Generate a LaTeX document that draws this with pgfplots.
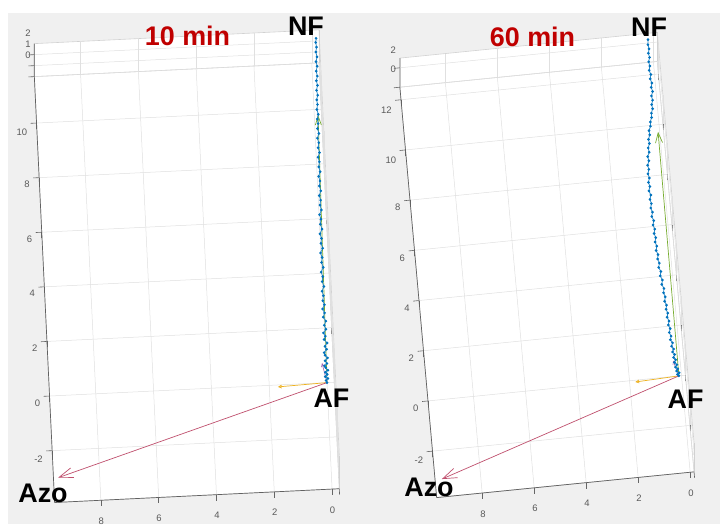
\documentclass[border=0pt]{standalone}
\usepackage{fontspec}
\setmainfont{Liberation Sans}
\usepackage{pgfplots}
\pgfplotsset{compat=1.18}
\usetikzlibrary{arrows.meta}
\definecolor{bgray}{HTML}{F0F0F0}
\definecolor{mblue}{HTML}{0072BD}
\definecolor{morange}{HTML}{EDB120}
\definecolor{mgreen}{HTML}{77AC30}
\definecolor{mred}{HTML}{C0506E}
\definecolor{mpurple}{HTML}{9E5FAE}
\definecolor{ttl}{HTML}{C00000}

\pgfplotstableread{
x y z
0.00 0.00 0
0.03 0.08 0
-0.04 0.15 0
0.05 0.22 0
-0.02 0.30 0
0.04 0.38 0
-0.05 0.45 0
0.02 0.55 0
0.06 0.62 0
-0.03 0.70 0
0.03 0.80 0
-0.06 0.90 0
0.02 1.00 0
0.05 1.10 0
-0.04 1.22 0
0.01 1.33 0
-0.07 1.45 0
0.03 1.58 0
-0.02 1.70 0
0.04 1.82 0
-0.05 1.95 0
0.00 2.10 0
-0.06 2.25 0
0.02 2.40 0
-0.03 2.55 0
0.03 2.70 0
-0.04 2.85 0
0.01 3.00 0
-0.02 3.18 0
0.02 3.35 0
-0.05 3.52 0
0.00 3.70 0
-0.03 3.88 0
0.02 4.05 0
-0.06 4.22 0
-0.01 4.40 0
-0.04 4.58 0
0.01 4.75 0
-0.07 4.92 0
-0.02 5.10 0
-0.05 5.28 0
0.00 5.45 0
-0.08 5.62 0
-0.03 5.80 0
-0.06 5.98 0
-0.02 6.15 0
-0.09 6.32 0
-0.05 6.50 0
-0.08 6.68 0
-0.04 6.85 0
-0.10 7.02 0
-0.06 7.20 0
-0.09 7.38 0
-0.05 7.55 0
-0.11 7.72 0
-0.07 7.90 0
-0.10 8.08 0
-0.06 8.25 0
-0.12 8.42 0
-0.08 8.60 0
-0.11 8.78 0
-0.07 8.95 0
-0.13 9.12 0
-0.09 9.30 0
-0.12 9.48 0
-0.10 9.65 0
-0.14 9.82 0
-0.10 10.00 0
-0.13 10.18 0
-0.11 10.35 0
-0.15 10.52 0
-0.12 10.70 0
-0.16 10.88 0
-0.13 11.05 0
-0.17 11.22 0
-0.14 11.40 0
-0.18 11.58 0
-0.15 11.75 0
-0.19 11.92 0
-0.16 12.10 0
-0.19 12.28 0
-0.17 12.45 0
-0.19 12.60 0
}\trackA

\pgfplotstableread{
x y z
0.10 0.00 0
0.15 0.06 0
0.08 0.12 0
0.17 0.20 0
0.12 0.28 0
0.20 0.36 0
0.14 0.45 0
0.22 0.55 0
0.17 0.65 0
0.24 0.75 0
0.19 0.86 0
0.26 0.97 0
0.21 1.08 0
0.28 1.20 0
0.23 1.33 0
0.30 1.46 0
0.26 1.60 0
0.32 1.75 0
0.27 1.90 0
0.33 2.05 0
0.29 2.20 0
0.35 2.36 0
0.31 2.52 0
0.36 2.68 0
0.33 2.84 0
0.39 3.00 0
0.35 3.17 0
0.40 3.34 0
0.37 3.51 0
0.44 3.68 0
0.40 3.85 0
0.47 4.02 0
0.43 4.19 0
0.50 4.36 0
0.46 4.53 0
0.51 4.70 0
0.48 4.87 0
0.54 5.04 0
0.50 5.21 0
0.55 5.38 0
0.51 5.55 0
0.56 5.72 0
0.52 5.89 0
0.57 6.06 0
0.53 6.23 0
0.59 6.40 0
0.55 6.57 0
0.60 6.74 0
0.56 6.91 0
0.60 7.08 0
0.55 7.25 0
0.61 7.42 0
0.56 7.59 0
0.60 7.76 0
0.55 7.93 0
0.59 8.10 0
0.54 8.27 0
0.57 8.44 0
0.51 8.61 0
0.54 8.78 0
0.47 8.95 0
0.49 9.12 0
0.43 9.29 0
0.45 9.46 0
0.39 9.63 0
0.40 9.80 0
0.33 9.97 0
0.32 10.14 0
0.26 10.31 0
0.25 10.48 0
0.19 10.65 0
0.21 10.82 0
0.16 10.99 0
0.19 11.16 0
0.13 11.33 0
0.17 11.50 0
0.13 11.67 0
0.18 11.84 0
0.14 12.01 0
0.19 12.18 0
0.15 12.35 0
0.18 12.52 0
0.13 12.69 0
0.16 12.86 0
0.12 13.03 0
0.15 13.20 0
0.13 13.40 0
}\trackB

\tikzset{boxedge/.style={black!62, line width=0.7bp}, xtk/.style={black!60, line width=0.6bp}}
\pgfplotsset{
 geomA/.style={at={(327bp,141.4bp)}, anchor=origin, x dir=reverse,
  x={(28.9bp,1.4bp)}, y={(-1.3bp,27.3bp)}, z={(0bp,11bp)},
  xmin=-0.25, xmax=9.6, ymin=-3.9, ymax=11.7, zmin=0, zmax=3, clip=false},
 geomB/.style={at={(681.5bp,148.4bp)}, anchor=origin, x dir=reverse,
  x={(26bp,2.6bp)}, y={(-2.25bp,25.1bp)}, z={(0bp,9.7bp)},
  xmin=-0.15, xmax=9.75, ymin=-3.85, ymax=12.5, zmin=0, zmax=3, clip=false},
 panel/.style={
  grid=major,
  major grid style={black!12, line width=0.5bp},
  axis line style={black!18, line width=0.6bp},
  tick style={black!60, line width=0.6bp},
  xtick style={draw=none},
  tick align=outside,
  tick pos=left,
  major tick length=6bp,
  ticklabel style={font=\fontsize{9.5}{10}\selectfont, text=black!65},
  xticklabel style={yshift=-8bp},
  /pgf/number format/assume math mode=true,
  xtick={0,2,4,6,8},
 },
 wf/.style={fill=white, draw=none, forget plot},
 bluetrack/.style={color=mblue!80, line width=0.8bp, mark=*, mark size=0.9bp, mark options={color=mblue}},
}

\begin{document}
\begin{tikzpicture}
\fill[white] (0,0) rectangle (720bp,524bp);
\fill[bgray] (8bp,0) rectangle (720bp,511bp);

% ---------------- Panel 1 white box ----------------
\begin{axis}[geomA, hide axis]
\addplot3[wf] coordinates {(9.6,-3.9,0) (-0.25,-3.9,0) (-0.25,11.7,0) (9.6,11.7,0)} -- cycle;
\addplot3[wf] coordinates {(9.6,-3.9,3) (-0.25,-3.9,3) (-0.25,11.7,3) (9.6,11.7,3)} -- cycle;
\addplot3[wf] coordinates {(9.6,-3.9,0) (9.6,11.7,0) (9.6,11.7,3) (9.6,-3.9,3)} -- cycle;
\addplot3[wf] coordinates {(-0.25,-3.9,0) (-0.25,11.7,0) (-0.25,11.7,3) (-0.25,-3.9,3)} -- cycle;
\addplot3[wf] coordinates {(9.6,-3.9,0) (-0.25,-3.9,0) (-0.25,-3.9,3) (9.6,-3.9,3)} -- cycle;
\addplot3[wf] coordinates {(9.6,11.7,0) (-0.25,11.7,0) (-0.25,11.7,3) (9.6,11.7,3)} -- cycle;
\end{axis}
% ---------------- Panel 1: 10 min ----------------
\begin{axis}[geomA, panel,
  ytick={-2,0,2,4,6,8,10}, ztick={0,1,2},
  zticklabel style={yshift=10bp}]
\draw[boxedge] (axis cs:9.6,11.7,3) -- (axis cs:9.6,11.7,0) -- (axis cs:9.6,-3.9,0) -- (axis cs:-0.25,-3.9,0);
\draw[xtk] (axis cs:0,-3.9,0) -- ++(0bp,-6bp) (axis cs:2,-3.9,0) -- ++(0bp,-6bp) (axis cs:4,-3.9,0) -- ++(0bp,-6bp) (axis cs:6,-3.9,0) -- ++(0bp,-6bp) (axis cs:8,-3.9,0) -- ++(0bp,-6bp);
\addplot3[mgreen, line width=0.7bp, -{Straight Barb[length=9bp,width=6bp]}] coordinates {(0,0,0) (-0.13,9.8,0)};
\addplot3[mpurple, line width=0.6bp, -{Straight Barb[length=3bp,width=3bp]}] coordinates {(0,0,0) (0.14,0.72,0)};
\addplot3[bluetrack] table[x=x,y=y,z=z] {\trackA};
\addplot3[morange, line width=0.7bp, -{Straight Barb[length=3bp,width=3bp]}] coordinates {(0,0,0) (1.70,-0.07,0)};
\addplot3[mred, line width=0.7bp, -{Straight Barb[length=14bp,width=10bp]}] coordinates {(0,0,0) (9.44,-3.0,0)};
\end{axis}

% ---------------- Panel 2 white box ----------------
\begin{axis}[geomB, hide axis]
\addplot3[wf] coordinates {(9.75,-3.85,0) (-0.15,-3.85,0) (-0.15,12.5,0) (9.75,12.5,0)} -- cycle;
\addplot3[wf] coordinates {(9.75,-3.85,3) (-0.15,-3.85,3) (-0.15,12.5,3) (9.75,12.5,3)} -- cycle;
\addplot3[wf] coordinates {(9.75,-3.85,0) (9.75,12.5,0) (9.75,12.5,3) (9.75,-3.85,3)} -- cycle;
\addplot3[wf] coordinates {(-0.15,-3.85,0) (-0.15,12.5,0) (-0.15,12.5,3) (-0.15,-3.85,3)} -- cycle;
\addplot3[wf] coordinates {(9.75,-3.85,0) (-0.15,-3.85,0) (-0.15,-3.85,3) (9.75,-3.85,3)} -- cycle;
\addplot3[wf] coordinates {(9.75,12.5,0) (-0.15,12.5,0) (-0.15,12.5,3) (9.75,12.5,3)} -- cycle;
\end{axis}
% ---------------- Panel 2: 60 min ----------------
\begin{axis}[geomB, panel,
  ytick={-2,0,2,4,6,8,10,12}, ztick={0,2},
  zticklabel style={yshift=7bp}]
\draw[boxedge] (axis cs:9.75,12.5,3) -- (axis cs:9.75,12.5,0) -- (axis cs:9.75,-3.85,0) -- (axis cs:-0.15,-3.85,0);
\draw[xtk] (axis cs:0,-3.85,0) -- ++(0bp,-6bp) (axis cs:2,-3.85,0) -- ++(0bp,-6bp) (axis cs:4,-3.85,0) -- ++(0bp,-6bp) (axis cs:6,-3.85,0) -- ++(0bp,-6bp) (axis cs:8,-3.85,0) -- ++(0bp,-6bp);
\addplot3[mgreen, line width=0.7bp, -{Straight Barb[length=10bp,width=7bp]}] coordinates {(0.1,0,0) (0.06,9.72,0)};
\addplot3[mpurple, line width=0.6bp, -{Straight Barb[length=3bp,width=3bp]}] coordinates {(0.1,0,0) (0.27,0.62,0)};
\addplot3[bluetrack] table[x=x,y=y,z=z] {\trackB};
\addplot3[morange, line width=0.7bp, -{Straight Barb[length=3bp,width=3bp]}] coordinates {(0.1,0,0) (1.78,-0.07,0)};
\addplot3[mred, line width=0.7bp, -{Straight Barb[length=14bp,width=10bp]}] coordinates {(0.1,0,0) (9.49,-3.14,0)};
\end{axis}

% ---------------- Labels ----------------
\tikzset{big/.style={inner sep=0pt, font=\fontsize{27}{27}\selectfont\bfseries}}
\node[big, text=ttl] at (187.5bp,488bp) {10 min};
\node[big, text=ttl] at (532.5bp,487.5bp) {60 min};
\node[big] at (306bp,497.5bp) {NF};
\node[big] at (331.5bp,126bp) {AF};
\node[big] at (43bp,31bp) {Azo};
\node[big] at (649bp,497bp) {NF};
\node[big] at (685.5bp,125bp) {AF};
\node[big] at (429bp,36.5bp) {Azo};
\end{tikzpicture}
\end{document}
